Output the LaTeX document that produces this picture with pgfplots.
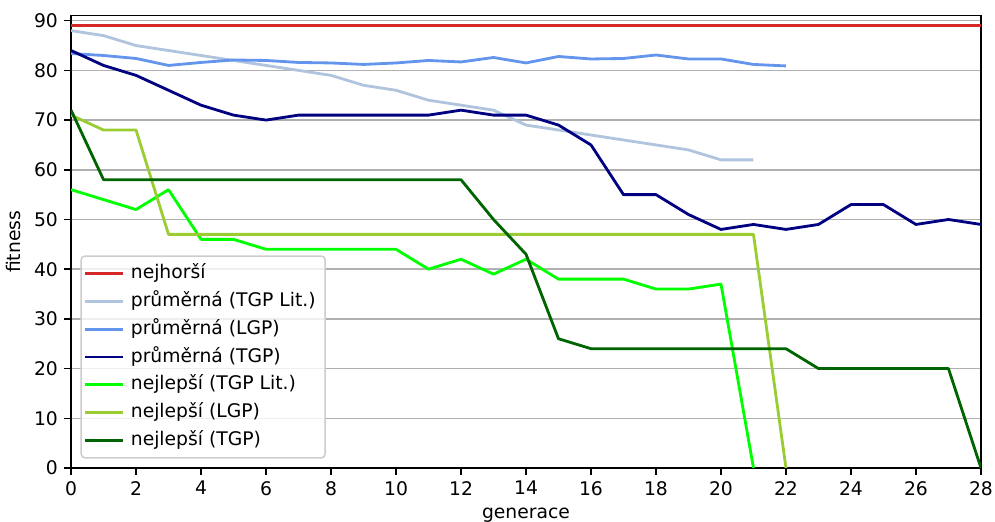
\documentclass[border=0pt]{standalone}
\usepackage{fontspec}
\setmainfont{DejaVu Sans}
\usepackage{pgfplots}
\pgfplotsset{compat=1.18}
\definecolor{cred}{HTML}{D62728}
\definecolor{cltsb}{HTML}{B0C4DE}
\definecolor{ccorn}{HTML}{6495ED}
\definecolor{cnavy}{HTML}{000080}
\definecolor{clime}{HTML}{00FF00}
\definecolor{cyg}{HTML}{9ACD32}
\definecolor{cdg}{HTML}{006400}
\definecolor{cgrid}{HTML}{B0B0B0}
\begin{document}
\begin{tikzpicture}
\begin{axis}[
  name=ax,
  scale only axis,
  width=485.3pt, height=241.2pt,
  xmin=0, xmax=28, ymin=0, ymax=91,
  xtick={0,2,...,28}, ytick={0,10,...,90},
  tick pos=left, tick align=outside,
  major tick length=3.5pt,
  every tick/.style={black, line width=0.8pt},
  axis line style={line width=0.8pt},
  ymajorgrids,
  major grid style={cgrid, line width=0.8pt},
  /pgf/number format/assume math mode=true,
  font=\fontsize{10pt}{12pt}\selectfont,
  ticklabel style={font=\fontsize{10pt}{12pt}\selectfont},
  xlabel={generace}, ylabel={fitness},
  every axis plot/.append style={line width=1.5pt, line join=round},
  legend cell align=left,
  legend image code/.code={\draw[#1, line width=1.5pt] (0pt,0pt) -- (20pt,0pt);},
  legend style={at={(0,0)}, anchor=south west, xshift=5pt, yshift=5pt,
    draw=black!20, line width=0.8pt, rounded corners=2pt,
    fill=white, fill opacity=0.8, text opacity=1,
    inner xsep=1.5pt, inner ysep=2pt,
    nodes={text height=7.5pt, text depth=2.1pt, inner ysep=2.6pt, inner xsep=3.5pt},
    font=\fontsize{10pt}{12pt}\selectfont},
]
\addplot[cred] coordinates {(0,89) (28,89)};
\addlegendentry{nejhorší}
\addplot[cltsb] coordinates {(0,88) (1,87) (2,85) (3,84) (4,83) (5,82) (6,81) (7,80) (8,79) (9,77) (10,76) (11,74) (12,73) (13,72) (14,69) (15,68) (16,67) (17,66) (18,65) (19,64) (20,62) (21,62)};
\addlegendentry{průměrná (TGP Lit.)}
\addplot[ccorn] coordinates {(0,83.4) (1,83) (2,82.4) (3,81) (4,81.6) (5,82.1) (6,82) (7,81.6) (8,81.5) (9,81.2) (10,81.5) (11,82) (12,81.7) (13,82.6) (14,81.5) (15,82.8) (16,82.3) (17,82.4) (18,83.1) (19,82.3) (20,82.3) (21,81.2) (22,80.9)};
\addlegendentry{průměrná (LGP)}
\addplot[cnavy] coordinates {(0,84) (1,81) (2,79) (3,76) (4,73) (5,71) (6,70) (7,71) (8,71) (9,71) (10,71) (11,71) (12,72) (13,71) (14,71) (15,69) (16,65) (17,55) (18,55) (19,51) (20,48) (21,49) (22,48) (23,49) (24,53) (25,53) (26,49) (27,50) (28,49)};
\addlegendentry{průměrná (TGP)}
\addplot[clime] coordinates {(0,56) (1,54) (2,52) (3,56) (4,46) (5,46) (6,44) (7,44) (8,44) (9,44) (10,44) (11,40) (12,42) (13,39) (14,42) (15,38) (16,38) (17,38) (18,36) (19,36) (20,37) (21,0)};
\addlegendentry{nejlepší (TGP Lit.)}
\addplot[cyg] coordinates {(0,71) (1,68) (2,68) (3,47) (4,47) (5,47) (6,47) (7,47) (8,47) (9,47) (10,47) (11,47) (12,47) (13,47) (14,47) (15,47) (16,47) (17,47) (18,47) (19,47) (20,47) (21,47) (22,0)};
\addlegendentry{nejlepší (LGP)}
\addplot[cdg] coordinates {(0,72) (1,58) (2,58) (3,58) (4,58) (5,58) (6,58) (7,58) (8,58) (9,58) (10,58) (11,58) (12,58) (13,50) (14,43) (15,26) (16,24) (17,24) (18,24) (19,24) (20,24) (21,24) (22,24) (23,20) (24,20) (25,20) (26,20) (27,20) (28,0)};
\addlegendentry{nejlepší (TGP)}
\end{axis}
\pgfresetboundingbox
\path[use as bounding box] ([xshift=-37.9pt,yshift=-28.3pt]ax.south west) rectangle ([xshift=7.5pt,yshift=8.4pt]ax.north east);
\end{tikzpicture}
\end{document}
